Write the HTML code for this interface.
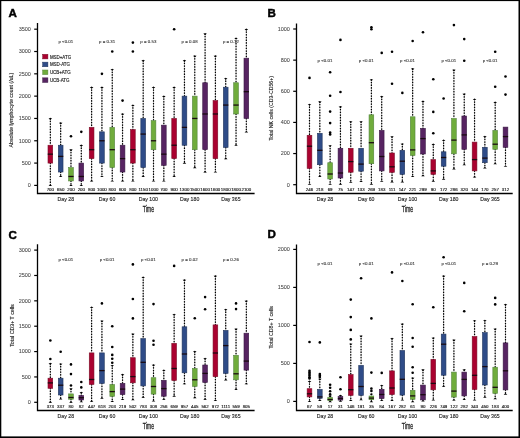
<!DOCTYPE html>
<html><head><meta charset="utf-8"><style>
html,body{margin:0;padding:0;background:#fff;}
body{width:520px;height:438px;overflow:hidden;}
svg{display:block;font-family:"Liberation Sans",sans-serif;will-change:transform;}
.ax{fill:none;stroke:#000;stroke-width:1.3;}
.tk{fill:none;stroke:#000;stroke-width:1.2;}
.tl{font-size:5.5px;text-anchor:end;fill:#444;stroke:#444;stroke-width:0.06;}
.yt{font-size:5.2px;text-anchor:middle;fill:#222;stroke:#222;stroke-width:0.12;}
.wk{fill:none;stroke:#000;stroke-width:1.3;stroke-dasharray:0.45 2.25;stroke-linecap:round;}
.wl{fill:none;stroke:#c8c8c8;stroke-width:0.7;}
.cp{fill:#000;stroke:none;}
.md{fill:none;stroke:#1a0a10;stroke-width:1.3;}
.ml{font-size:4.4px;text-anchor:middle;fill:#222;stroke:#222;stroke-width:0.16;}
.dl{font-size:5.2px;text-anchor:middle;fill:#222;stroke:#222;stroke-width:0.12;}
.pv{font-size:4.4px;text-anchor:middle;fill:#333;stroke:#333;stroke-width:0.1;}
.tm{font-size:8.6px;text-anchor:middle;fill:#222;stroke:#222;stroke-width:0.3;}
.pl{font-size:11.6px;font-weight:bold;fill:#000;stroke:#000;stroke-width:0.45;}
.lg{font-size:4.45px;fill:#222;stroke:#222;stroke-width:0.14;}
</style></head><body>
<svg width="520" height="438" viewBox="0 0 520 438">
<rect x="0" y="0" width="520" height="438" fill="#fff"/>
<path d="M37.5 23V193.5H254.6" class="ax"/>
<path d="M34.2 185.4H37.5" class="tk"/>
<text x="30.9" y="187.3" class="tl">0</text>
<path d="M34.2 163.09H37.5" class="tk"/>
<text x="30.9" y="164.99" class="tl">500</text>
<path d="M34.2 140.77H37.5" class="tk"/>
<text x="30.9" y="142.67" class="tl">1000</text>
<path d="M34.2 118.45H37.5" class="tk"/>
<text x="30.9" y="120.36" class="tl">1500</text>
<path d="M34.2 96.14H37.5" class="tk"/>
<text x="30.9" y="98.04" class="tl">2000</text>
<path d="M34.2 73.83H37.5" class="tk"/>
<text x="30.9" y="75.73" class="tl">2500</text>
<path d="M34.2 51.51H37.5" class="tk"/>
<text x="30.9" y="53.41" class="tl">3000</text>
<path d="M34.2 29.19H37.5" class="tk"/>
<text x="30.9" y="31.09" class="tl">3500</text>
<text transform="translate(13 110.1) rotate(-90)" class="yt" textLength="74.6" lengthAdjust="spacingAndGlyphs">Absolute lymphocyte count (/uL)</text>
<path d="M50.35 118.45V145.23" class="wl"/>
<path d="M50.35 118.45V145.23" class="wk"/>
<path d="M48.55 118.3H52.15L50.35 119.95Z" class="cp"/>
<path d="M50.35 163.09V185.4" class="wl"/>
<path d="M50.35 163.09V185.4" class="wk"/>
<path d="M48.55 186H52.15L50.35 184.4Z" class="cp"/>
<rect x="48" y="145.23" width="4.7" height="17.85" fill="#aa0230" stroke="#7a1028" stroke-width="0.6"/>
<path d="M47.75 154.16H52.95" class="md"/>
<text x="50.35" y="190.7" class="ml">700</text>
<path d="M60.67 122.92V145.23" class="wl"/>
<path d="M60.67 122.92V145.23" class="wk"/>
<path d="M58.87 122.77H62.47L60.67 124.42Z" class="cp"/>
<path d="M60.67 172.01V176.47" class="wl"/>
<path d="M60.67 172.01V176.47" class="wk"/>
<path d="M58.87 177.07H62.47L60.67 175.47Z" class="cp"/>
<rect x="58.32" y="145.23" width="4.7" height="26.78" fill="#2f4c88" stroke="#22365c" stroke-width="0.6"/>
<path d="M58.07 156.39H63.27" class="md"/>
<text x="60.67" y="190.7" class="ml">650</text>
<path d="M70.98 149.7V167.55" class="wl"/>
<path d="M70.98 149.7V167.55" class="wk"/>
<path d="M69.18 149.55H72.78L70.98 151.2Z" class="cp"/>
<path d="M70.98 180.94V185.4" class="wl"/>
<path d="M70.98 180.94V185.4" class="wk"/>
<path d="M69.18 186H72.78L70.98 184.4Z" class="cp"/>
<rect x="68.63" y="167.55" width="4.7" height="13.39" fill="#70ac3c" stroke="#55853f" stroke-width="0.6"/>
<path d="M68.38 176.47H73.58" class="md"/>
<circle cx="70.98" cy="136.31" r="1.3"/>
<text x="70.98" y="190.7" class="ml">200</text>
<path d="M81.3 145.23V163.09" class="wl"/>
<path d="M81.3 145.23V163.09" class="wk"/>
<path d="M79.5 145.08H83.1L81.3 146.73Z" class="cp"/>
<path d="M81.3 180.94V185.4" class="wl"/>
<path d="M81.3 180.94V185.4" class="wk"/>
<path d="M79.5 186H83.1L81.3 184.4Z" class="cp"/>
<rect x="78.95" y="163.09" width="4.7" height="17.85" fill="#572462" stroke="#3a1a44" stroke-width="0.6"/>
<path d="M78.7 176.47H83.9" class="md"/>
<circle cx="81.3" cy="131.84" r="1.3"/>
<text x="81.3" y="190.7" class="ml">200</text>
<path d="M91.61 87.21V127.38" class="wl"/>
<path d="M91.61 87.21V127.38" class="wk"/>
<path d="M89.81 87.06H93.41L91.61 88.71Z" class="cp"/>
<path d="M91.61 158.62V180.94" class="wl"/>
<path d="M91.61 158.62V180.94" class="wk"/>
<path d="M89.81 181.54H93.41L91.61 179.94Z" class="cp"/>
<rect x="89.26" y="127.38" width="4.7" height="31.24" fill="#aa0230" stroke="#7a1028" stroke-width="0.6"/>
<path d="M89.01 149.7H94.21" class="md"/>
<text x="91.61" y="190.7" class="ml">800</text>
<path d="M101.93 87.21V131.84" class="wl"/>
<path d="M101.93 87.21V131.84" class="wk"/>
<path d="M100.13 87.06H103.73L101.93 88.71Z" class="cp"/>
<path d="M101.93 163.09V176.47" class="wl"/>
<path d="M101.93 163.09V176.47" class="wk"/>
<path d="M100.13 177.07H103.73L101.93 175.47Z" class="cp"/>
<rect x="99.58" y="131.84" width="4.7" height="31.24" fill="#2f4c88" stroke="#22365c" stroke-width="0.6"/>
<path d="M99.33 140.77H104.53" class="md"/>
<circle cx="101.93" cy="73.83" r="1.3"/>
<text x="101.93" y="190.7" class="ml">1000</text>
<path d="M112.25 69.36V127.38" class="wl"/>
<path d="M112.25 69.36V127.38" class="wk"/>
<path d="M110.45 69.21H114.05L112.25 70.86Z" class="cp"/>
<path d="M112.25 167.55V180.94" class="wl"/>
<path d="M112.25 167.55V180.94" class="wk"/>
<path d="M110.45 181.54H114.05L112.25 179.94Z" class="cp"/>
<rect x="109.9" y="127.38" width="4.7" height="40.17" fill="#70ac3c" stroke="#55853f" stroke-width="0.6"/>
<path d="M109.65 149.7H114.85" class="md"/>
<circle cx="112.25" cy="51.51" r="1.3"/>
<text x="112.25" y="190.7" class="ml">800</text>
<path d="M122.56 113.99V145.23" class="wl"/>
<path d="M122.56 113.99V145.23" class="wk"/>
<path d="M120.76 113.84H124.36L122.56 115.49Z" class="cp"/>
<path d="M122.56 172.01V180.94" class="wl"/>
<path d="M122.56 172.01V180.94" class="wk"/>
<path d="M120.76 181.54H124.36L122.56 179.94Z" class="cp"/>
<rect x="120.21" y="145.23" width="4.7" height="26.78" fill="#572462" stroke="#3a1a44" stroke-width="0.6"/>
<path d="M119.96 158.62H125.16" class="md"/>
<circle cx="122.56" cy="100.6" r="1.3"/>
<text x="122.56" y="190.7" class="ml">600</text>
<path d="M132.88 105.07V129.61" class="wl"/>
<path d="M132.88 105.07V129.61" class="wk"/>
<path d="M131.08 104.92H134.68L132.88 106.57Z" class="cp"/>
<path d="M132.88 163.09V180.94" class="wl"/>
<path d="M132.88 163.09V180.94" class="wk"/>
<path d="M131.08 181.54H134.68L132.88 179.94Z" class="cp"/>
<rect x="130.53" y="129.61" width="4.7" height="33.47" fill="#aa0230" stroke="#7a1028" stroke-width="0.6"/>
<path d="M130.28 149.7H135.48" class="md"/>
<circle cx="132.88" cy="51.51" r="1.3"/>
<circle cx="132.88" cy="42.58" r="1.3"/>
<text x="132.88" y="190.7" class="ml">800</text>
<path d="M143.19 60.44V118.45" class="wl"/>
<path d="M143.19 60.44V118.45" class="wk"/>
<path d="M141.39 60.29H144.99L143.19 61.94Z" class="cp"/>
<path d="M143.19 167.55V176.47" class="wl"/>
<path d="M143.19 167.55V176.47" class="wk"/>
<path d="M141.39 177.07H144.99L143.19 175.47Z" class="cp"/>
<rect x="140.84" y="118.45" width="4.7" height="49.09" fill="#2f4c88" stroke="#22365c" stroke-width="0.6"/>
<path d="M140.59 134.08H145.79" class="md"/>
<text x="143.19" y="190.7" class="ml">1150</text>
<path d="M153.51 87.21V120.69" class="wl"/>
<path d="M153.51 87.21V120.69" class="wk"/>
<path d="M151.71 87.06H155.31L153.51 88.71Z" class="cp"/>
<path d="M153.51 149.7V180.94" class="wl"/>
<path d="M153.51 149.7V180.94" class="wk"/>
<path d="M151.71 181.54H155.31L153.51 179.94Z" class="cp"/>
<rect x="151.16" y="120.69" width="4.7" height="29.01" fill="#70ac3c" stroke="#55853f" stroke-width="0.6"/>
<path d="M150.91 140.77H156.11" class="md"/>
<text x="153.51" y="190.7" class="ml">1000</text>
<path d="M163.83 96.14V125.15" class="wl"/>
<path d="M163.83 96.14V125.15" class="wk"/>
<path d="M162.03 95.99H165.63L163.83 97.64Z" class="cp"/>
<path d="M163.83 165.32V180.94" class="wl"/>
<path d="M163.83 165.32V180.94" class="wk"/>
<path d="M162.03 181.54H165.63L163.83 179.94Z" class="cp"/>
<rect x="161.48" y="125.15" width="4.7" height="40.17" fill="#572462" stroke="#3a1a44" stroke-width="0.6"/>
<path d="M161.23 154.16H166.43" class="md"/>
<text x="163.83" y="190.7" class="ml">700</text>
<path d="M174.14 87.21V118.45" class="wl"/>
<path d="M174.14 87.21V118.45" class="wk"/>
<path d="M172.34 87.06H175.94L174.14 88.71Z" class="cp"/>
<path d="M174.14 158.62V176.47" class="wl"/>
<path d="M174.14 158.62V176.47" class="wk"/>
<path d="M172.34 177.07H175.94L174.14 175.47Z" class="cp"/>
<rect x="171.79" y="118.45" width="4.7" height="40.17" fill="#aa0230" stroke="#7a1028" stroke-width="0.6"/>
<path d="M171.54 145.23H176.74" class="md"/>
<circle cx="174.14" cy="29.19" r="1.3"/>
<text x="174.14" y="190.7" class="ml">900</text>
<path d="M184.46 60.44V96.14" class="wl"/>
<path d="M184.46 60.44V96.14" class="wk"/>
<path d="M182.66 60.29H186.26L184.46 61.94Z" class="cp"/>
<path d="M184.46 145.23V163.09" class="wl"/>
<path d="M184.46 145.23V163.09" class="wk"/>
<path d="M182.66 163.69H186.26L184.46 162.09Z" class="cp"/>
<rect x="182.11" y="96.14" width="4.7" height="49.09" fill="#2f4c88" stroke="#22365c" stroke-width="0.6"/>
<path d="M181.86 127.38H187.06" class="md"/>
<text x="184.46" y="190.7" class="ml">1300</text>
<path d="M194.77 55.97V96.14" class="wl"/>
<path d="M194.77 55.97V96.14" class="wk"/>
<path d="M192.97 55.82H196.57L194.77 57.47Z" class="cp"/>
<path d="M194.77 149.7V167.55" class="wl"/>
<path d="M194.77 149.7V167.55" class="wk"/>
<path d="M192.97 168.15H196.57L194.77 166.55Z" class="cp"/>
<rect x="192.42" y="96.14" width="4.7" height="53.56" fill="#70ac3c" stroke="#55853f" stroke-width="0.6"/>
<path d="M192.17 118.45H197.37" class="md"/>
<text x="194.77" y="190.7" class="ml">1500</text>
<path d="M205.09 33.66V82.75" class="wl"/>
<path d="M205.09 33.66V82.75" class="wk"/>
<path d="M203.29 33.51H206.89L205.09 35.16Z" class="cp"/>
<path d="M205.09 149.7V172.01" class="wl"/>
<path d="M205.09 149.7V172.01" class="wk"/>
<path d="M203.29 172.61H206.89L205.09 171.01Z" class="cp"/>
<rect x="202.74" y="82.75" width="4.7" height="66.94" fill="#572462" stroke="#3a1a44" stroke-width="0.6"/>
<path d="M202.49 113.99H207.69" class="md"/>
<text x="205.09" y="190.7" class="ml">1600</text>
<path d="M215.41 55.97V100.6" class="wl"/>
<path d="M215.41 55.97V100.6" class="wk"/>
<path d="M213.61 55.82H217.21L215.41 57.47Z" class="cp"/>
<path d="M215.41 158.62V172.01" class="wl"/>
<path d="M215.41 158.62V172.01" class="wk"/>
<path d="M213.61 172.61H217.21L215.41 171.01Z" class="cp"/>
<rect x="213.06" y="100.6" width="4.7" height="58.02" fill="#aa0230" stroke="#7a1028" stroke-width="0.6"/>
<path d="M212.81 113.99H218.01" class="md"/>
<text x="215.41" y="190.7" class="ml">1600</text>
<path d="M225.72 78.29V87.21" class="wl"/>
<path d="M225.72 78.29V87.21" class="wk"/>
<path d="M223.92 78.14H227.52L225.72 79.79Z" class="cp"/>
<path d="M225.72 147.46V158.62" class="wl"/>
<path d="M225.72 147.46V158.62" class="wk"/>
<path d="M223.92 159.22H227.52L225.72 157.62Z" class="cp"/>
<rect x="223.37" y="87.21" width="4.7" height="60.25" fill="#2f4c88" stroke="#22365c" stroke-width="0.6"/>
<path d="M223.12 105.07H228.32" class="md"/>
<text x="225.72" y="190.7" class="ml">1800</text>
<path d="M236.04 38.12V82.75" class="wl"/>
<path d="M236.04 38.12V82.75" class="wk"/>
<path d="M234.24 37.97H237.84L236.04 39.62Z" class="cp"/>
<path d="M236.04 113.99V145.23" class="wl"/>
<path d="M236.04 113.99V145.23" class="wk"/>
<path d="M234.24 145.83H237.84L236.04 144.23Z" class="cp"/>
<rect x="233.69" y="82.75" width="4.7" height="31.24" fill="#70ac3c" stroke="#55853f" stroke-width="0.6"/>
<path d="M233.44 105.07H238.64" class="md"/>
<text x="236.04" y="190.7" class="ml">1800</text>
<path d="M246.35 29.19V58.2" class="wl"/>
<path d="M246.35 29.19V58.2" class="wk"/>
<path d="M244.55 29.04H248.15L246.35 30.69Z" class="cp"/>
<path d="M246.35 118.45V131.84" class="wl"/>
<path d="M246.35 118.45V131.84" class="wk"/>
<path d="M244.55 132.44H248.15L246.35 130.84Z" class="cp"/>
<rect x="244" y="58.2" width="4.7" height="60.25" fill="#572462" stroke="#3a1a44" stroke-width="0.6"/>
<path d="M243.75 91.68H248.95" class="md"/>
<text x="246.35" y="190.7" class="ml">2100</text>
<text x="65.82" y="201" class="dl">Day 28</text>
<text x="65.82" y="43.4" class="pv">p <0.01</text>
<text x="107.09" y="201" class="dl">Day 60</text>
<text x="107.09" y="43.4" class="pv">p = 0.31</text>
<text x="148.35" y="201" class="dl">Day 100</text>
<text x="148.35" y="43.4" class="pv">p = 0.53</text>
<text x="189.62" y="201" class="dl">Day 180</text>
<text x="189.62" y="43.4" class="pv">p = 0.08</text>
<text x="230.88" y="201" class="dl">Day 365</text>
<text x="230.88" y="43.4" class="pv">p = 0.12</text>
<text x="148.35" y="211.6" class="tm" textLength="11.4" lengthAdjust="spacingAndGlyphs">Time</text>
<text x="8.4" y="16.7" class="pl">A</text>
<path d="M296.5 23.4V193.5H512.7" class="ax"/>
<path d="M293.2 184.7H296.5" class="tk"/>
<text x="289.9" y="186.6" class="tl">0</text>
<path d="M293.2 153.56H296.5" class="tk"/>
<text x="289.9" y="155.46" class="tl">200</text>
<path d="M293.2 122.42H296.5" class="tk"/>
<text x="289.9" y="124.32" class="tl">400</text>
<path d="M293.2 91.28H296.5" class="tk"/>
<text x="289.9" y="93.18" class="tl">600</text>
<path d="M293.2 60.14H296.5" class="tk"/>
<text x="289.9" y="62.04" class="tl">800</text>
<path d="M293.2 29H296.5" class="tk"/>
<text x="289.9" y="30.9" class="tl">1000</text>
<text transform="translate(272.6 108.3) rotate(-90)" class="yt" textLength="64.6" lengthAdjust="spacingAndGlyphs">Total NK cells (CD3-CD56+)</text>
<path d="M309.5 104.3V135.3" class="wl"/>
<path d="M309.5 104.3V135.3" class="wk"/>
<path d="M307.7 104.15H311.3L309.5 105.8Z" class="cp"/>
<path d="M309.5 168.4V184.2" class="wl"/>
<path d="M309.5 168.4V184.2" class="wk"/>
<path d="M307.7 184.8H311.3L309.5 183.2Z" class="cp"/>
<rect x="307.15" y="135.3" width="4.7" height="33.1" fill="#aa0230" stroke="#7a1028" stroke-width="0.6"/>
<path d="M306.9 146.2H312.1" class="md"/>
<circle cx="309.5" cy="77.9" r="1.3"/>
<text x="309.5" y="190.7" class="ml">246</text>
<path d="M319.82 101.7V133.3" class="wl"/>
<path d="M319.82 101.7V133.3" class="wk"/>
<path d="M318.02 101.55H321.62L319.82 103.2Z" class="cp"/>
<path d="M319.82 164.7V176.4" class="wl"/>
<path d="M319.82 164.7V176.4" class="wk"/>
<path d="M318.02 177H321.62L319.82 175.4Z" class="cp"/>
<rect x="317.47" y="133.3" width="4.7" height="31.4" fill="#2f4c88" stroke="#22365c" stroke-width="0.6"/>
<path d="M317.22 150.3H322.42" class="md"/>
<text x="319.82" y="190.7" class="ml">218</text>
<path d="M330.13 145.6V162.7" class="wl"/>
<path d="M330.13 145.6V162.7" class="wk"/>
<path d="M328.33 145.45H331.93L330.13 147.1Z" class="cp"/>
<path d="M330.13 179V184.2" class="wl"/>
<path d="M330.13 179V184.2" class="wk"/>
<path d="M328.33 184.8H331.93L330.13 183.2Z" class="cp"/>
<rect x="327.78" y="162.7" width="4.7" height="16.3" fill="#70ac3c" stroke="#55853f" stroke-width="0.6"/>
<path d="M327.53 174H332.73" class="md"/>
<circle cx="330.13" cy="72.3" r="1.3"/>
<circle cx="330.13" cy="95.7" r="1.3"/>
<circle cx="330.13" cy="111.6" r="1.3"/>
<circle cx="330.13" cy="123.1" r="1.3"/>
<circle cx="330.13" cy="132.6" r="1.3"/>
<circle cx="330.13" cy="134.4" r="1.3"/>
<text x="330.13" y="190.7" class="ml">69</text>
<path d="M340.45 106.7V148.3" class="wl"/>
<path d="M340.45 106.7V148.3" class="wk"/>
<path d="M338.65 106.55H342.25L340.45 108.2Z" class="cp"/>
<path d="M340.45 178V184.2" class="wl"/>
<path d="M340.45 178V184.2" class="wk"/>
<path d="M338.65 184.8H342.25L340.45 183.2Z" class="cp"/>
<rect x="338.1" y="148.3" width="4.7" height="29.7" fill="#572462" stroke="#3a1a44" stroke-width="0.6"/>
<path d="M337.85 173H343.05" class="md"/>
<circle cx="340.45" cy="39.9" r="1.3"/>
<circle cx="340.45" cy="92" r="1.3"/>
<text x="340.45" y="190.7" class="ml">75</text>
<path d="M350.76 121.6V148.3" class="wl"/>
<path d="M350.76 121.6V148.3" class="wk"/>
<path d="M348.96 121.45H352.56L350.76 123.1Z" class="cp"/>
<path d="M350.76 172.2V182.2" class="wl"/>
<path d="M350.76 172.2V182.2" class="wk"/>
<path d="M348.96 182.8H352.56L350.76 181.2Z" class="cp"/>
<rect x="348.41" y="148.3" width="4.7" height="23.9" fill="#aa0230" stroke="#7a1028" stroke-width="0.6"/>
<path d="M348.16 161.6H353.36" class="md"/>
<text x="350.76" y="190.7" class="ml">147</text>
<path d="M361.08 121.6V148.3" class="wl"/>
<path d="M361.08 121.6V148.3" class="wk"/>
<path d="M359.28 121.45H362.88L361.08 123.1Z" class="cp"/>
<path d="M361.08 171.2V181.4" class="wl"/>
<path d="M361.08 171.2V181.4" class="wk"/>
<path d="M359.28 182H362.88L361.08 180.4Z" class="cp"/>
<rect x="358.73" y="148.3" width="4.7" height="22.9" fill="#2f4c88" stroke="#22365c" stroke-width="0.6"/>
<path d="M358.48 164.1H363.68" class="md"/>
<text x="361.08" y="190.7" class="ml">133</text>
<path d="M371.4 79.6V114.8" class="wl"/>
<path d="M371.4 79.6V114.8" class="wk"/>
<path d="M369.6 79.45H373.2L371.4 81.1Z" class="cp"/>
<path d="M371.4 163.7V184.2" class="wl"/>
<path d="M371.4 163.7V184.2" class="wk"/>
<path d="M369.6 184.8H373.2L371.4 183.2Z" class="cp"/>
<rect x="369.05" y="114.8" width="4.7" height="48.9" fill="#70ac3c" stroke="#55853f" stroke-width="0.6"/>
<path d="M368.8 142.7H374" class="md"/>
<circle cx="371.4" cy="27.2" r="1.3"/>
<circle cx="371.4" cy="29.2" r="1.3"/>
<text x="371.4" y="190.7" class="ml">269</text>
<path d="M381.71 96.4V130.4" class="wl"/>
<path d="M381.71 96.4V130.4" class="wk"/>
<path d="M379.91 96.25H383.51L381.71 97.9Z" class="cp"/>
<path d="M381.71 170.9V181.2" class="wl"/>
<path d="M381.71 170.9V181.2" class="wk"/>
<path d="M379.91 181.8H383.51L381.71 180.2Z" class="cp"/>
<rect x="379.36" y="130.4" width="4.7" height="40.5" fill="#572462" stroke="#3a1a44" stroke-width="0.6"/>
<path d="M379.11 156.5H384.31" class="md"/>
<circle cx="381.71" cy="52.9" r="1.3"/>
<text x="381.71" y="190.7" class="ml">183</text>
<path d="M392.03 136.6V153" class="wl"/>
<path d="M392.03 136.6V153" class="wk"/>
<path d="M390.23 136.45H393.83L392.03 138.1Z" class="cp"/>
<path d="M392.03 172.3V181.8" class="wl"/>
<path d="M392.03 172.3V181.8" class="wk"/>
<path d="M390.23 182.4H393.83L392.03 180.8Z" class="cp"/>
<rect x="389.68" y="153" width="4.7" height="19.3" fill="#aa0230" stroke="#7a1028" stroke-width="0.6"/>
<path d="M389.43 166.8H394.63" class="md"/>
<circle cx="392.03" cy="51.8" r="1.3"/>
<circle cx="392.03" cy="83.7" r="1.3"/>
<text x="392.03" y="190.7" class="ml">111</text>
<path d="M402.34 143.8V150.3" class="wl"/>
<path d="M402.34 143.8V150.3" class="wk"/>
<path d="M400.54 143.65H404.14L402.34 145.3Z" class="cp"/>
<path d="M402.34 174.4V181.8" class="wl"/>
<path d="M402.34 174.4V181.8" class="wk"/>
<path d="M400.54 182.4H404.14L402.34 180.8Z" class="cp"/>
<rect x="399.99" y="150.3" width="4.7" height="24.1" fill="#2f4c88" stroke="#22365c" stroke-width="0.6"/>
<path d="M399.74 161.2H404.94" class="md"/>
<circle cx="402.34" cy="92.9" r="1.3"/>
<text x="402.34" y="190.7" class="ml">147</text>
<path d="M412.66 68.7V116.8" class="wl"/>
<path d="M412.66 68.7V116.8" class="wk"/>
<path d="M410.86 68.55H414.46L412.66 70.2Z" class="cp"/>
<path d="M412.66 155.5V176.4" class="wl"/>
<path d="M412.66 155.5V176.4" class="wk"/>
<path d="M410.86 177H414.46L412.66 175.4Z" class="cp"/>
<rect x="410.31" y="116.8" width="4.7" height="38.7" fill="#70ac3c" stroke="#55853f" stroke-width="0.6"/>
<path d="M410.06 149.9H415.26" class="md"/>
<circle cx="412.66" cy="41" r="1.3"/>
<text x="412.66" y="190.7" class="ml">221</text>
<path d="M422.98 101.2V128.4" class="wl"/>
<path d="M422.98 101.2V128.4" class="wk"/>
<path d="M421.18 101.05H424.78L422.98 102.7Z" class="cp"/>
<path d="M422.98 154V175.6" class="wl"/>
<path d="M422.98 154V175.6" class="wk"/>
<path d="M421.18 176.2H424.78L422.98 174.6Z" class="cp"/>
<rect x="420.63" y="128.4" width="4.7" height="25.6" fill="#572462" stroke="#3a1a44" stroke-width="0.6"/>
<path d="M420.38 138.6H425.58" class="md"/>
<circle cx="422.98" cy="32.3" r="1.3"/>
<text x="422.98" y="190.7" class="ml">299</text>
<path d="M433.29 144.2V159.6" class="wl"/>
<path d="M433.29 144.2V159.6" class="wk"/>
<path d="M431.49 144.05H435.09L433.29 145.7Z" class="cp"/>
<path d="M433.29 174.4V181.2" class="wl"/>
<path d="M433.29 174.4V181.2" class="wk"/>
<path d="M431.49 181.8H435.09L433.29 180.2Z" class="cp"/>
<rect x="430.94" y="159.6" width="4.7" height="14.8" fill="#aa0230" stroke="#7a1028" stroke-width="0.6"/>
<path d="M430.69 170.9H435.89" class="md"/>
<circle cx="433.29" cy="79.2" r="1.3"/>
<circle cx="433.29" cy="111.9" r="1.3"/>
<circle cx="433.29" cy="133.3" r="1.3"/>
<text x="433.29" y="190.7" class="ml">90</text>
<path d="M443.61 140.1V151.8" class="wl"/>
<path d="M443.61 140.1V151.8" class="wk"/>
<path d="M441.81 139.95H445.41L443.61 141.6Z" class="cp"/>
<path d="M443.61 166.2V179.1" class="wl"/>
<path d="M443.61 166.2V179.1" class="wk"/>
<path d="M441.81 179.7H445.41L443.61 178.1Z" class="cp"/>
<rect x="441.26" y="151.8" width="4.7" height="14.4" fill="#2f4c88" stroke="#22365c" stroke-width="0.6"/>
<path d="M441.01 157.5H446.21" class="md"/>
<circle cx="443.61" cy="98.5" r="1.3"/>
<text x="443.61" y="190.7" class="ml">172</text>
<path d="M453.92 69.9V118.5" class="wl"/>
<path d="M453.92 69.9V118.5" class="wk"/>
<path d="M452.12 69.75H455.72L453.92 71.4Z" class="cp"/>
<path d="M453.92 153.8V168.8" class="wl"/>
<path d="M453.92 153.8V168.8" class="wk"/>
<path d="M452.12 169.4H455.72L453.92 167.8Z" class="cp"/>
<rect x="451.57" y="118.5" width="4.7" height="35.3" fill="#70ac3c" stroke="#55853f" stroke-width="0.6"/>
<path d="M451.32 140.1H456.52" class="md"/>
<circle cx="453.92" cy="25.1" r="1.3"/>
<text x="453.92" y="190.7" class="ml">286</text>
<path d="M464.24 94V116" class="wl"/>
<path d="M464.24 94V116" class="wk"/>
<path d="M462.44 93.85H466.04L464.24 95.5Z" class="cp"/>
<path d="M464.24 149.3V164.7" class="wl"/>
<path d="M464.24 149.3V164.7" class="wk"/>
<path d="M462.44 165.3H466.04L464.24 163.7Z" class="cp"/>
<rect x="461.89" y="116" width="4.7" height="33.3" fill="#572462" stroke="#3a1a44" stroke-width="0.6"/>
<path d="M461.64 134.9H466.84" class="md"/>
<circle cx="464.24" cy="39.1" r="1.3"/>
<circle cx="464.24" cy="60.7" r="1.3"/>
<text x="464.24" y="190.7" class="ml">320</text>
<path d="M474.56 99.1V142.1" class="wl"/>
<path d="M474.56 99.1V142.1" class="wk"/>
<path d="M472.76 98.95H476.36L474.56 100.6Z" class="cp"/>
<path d="M474.56 170.9V177" class="wl"/>
<path d="M474.56 170.9V177" class="wk"/>
<path d="M472.76 177.6H476.36L474.56 176Z" class="cp"/>
<rect x="472.21" y="142.1" width="4.7" height="28.8" fill="#aa0230" stroke="#7a1028" stroke-width="0.6"/>
<path d="M471.96 159.6H477.16" class="md"/>
<text x="474.56" y="190.7" class="ml">144</text>
<path d="M484.87 136.4V147.3" class="wl"/>
<path d="M484.87 136.4V147.3" class="wk"/>
<path d="M483.07 136.25H486.67L484.87 137.9Z" class="cp"/>
<path d="M484.87 162.7V167.8" class="wl"/>
<path d="M484.87 162.7V167.8" class="wk"/>
<path d="M483.07 168.4H486.67L484.87 166.8Z" class="cp"/>
<rect x="482.52" y="147.3" width="4.7" height="15.4" fill="#2f4c88" stroke="#22365c" stroke-width="0.6"/>
<path d="M482.27 158.1H487.47" class="md"/>
<text x="484.87" y="190.7" class="ml">170</text>
<path d="M495.19 102.2V130.4" class="wl"/>
<path d="M495.19 102.2V130.4" class="wk"/>
<path d="M493.39 102.05H496.99L495.19 103.7Z" class="cp"/>
<path d="M495.19 149.3V163.7" class="wl"/>
<path d="M495.19 149.3V163.7" class="wk"/>
<path d="M493.39 164.3H496.99L495.19 162.7Z" class="cp"/>
<rect x="492.84" y="130.4" width="4.7" height="18.9" fill="#70ac3c" stroke="#55853f" stroke-width="0.6"/>
<path d="M492.59 144.2H497.79" class="md"/>
<circle cx="495.19" cy="51.8" r="1.3"/>
<circle cx="495.19" cy="86.8" r="1.3"/>
<text x="495.19" y="190.7" class="ml">257</text>
<path d="M505.5 147.3V166.2" class="wl"/>
<path d="M505.5 147.3V166.2" class="wk"/>
<path d="M503.7 166.8H507.3L505.5 165.2Z" class="cp"/>
<rect x="503.15" y="127.1" width="4.7" height="20.2" fill="#572462" stroke="#3a1a44" stroke-width="0.6"/>
<path d="M502.9 136.6H508.1" class="md"/>
<circle cx="505.5" cy="76.5" r="1.3"/>
<circle cx="505.5" cy="94.6" r="1.3"/>
<text x="505.5" y="190.7" class="ml">312</text>
<text x="324.97" y="200.8" class="dl">Day 28</text>
<text x="324.97" y="61.7" class="pv">p <0.01</text>
<text x="366.24" y="200.8" class="dl">Day 60</text>
<text x="366.24" y="61.7" class="pv">p <0.01</text>
<text x="407.5" y="200.8" class="dl">Day 100</text>
<text x="407.5" y="61.7" class="pv">p <0.01</text>
<text x="448.77" y="200.8" class="dl">Day 180</text>
<text x="448.77" y="61.7" class="pv">p <0.01</text>
<text x="490.03" y="200.8" class="dl">Day 365</text>
<text x="490.03" y="61.7" class="pv">p <0.01</text>
<text x="407.5" y="211.6" class="tm" textLength="11.4" lengthAdjust="spacingAndGlyphs">Time</text>
<text x="267.6" y="16.9" class="pl">B</text>
<path d="M37.5 244.2V410.5H254.6" class="ax"/>
<path d="M34.2 402.3H37.5" class="tk"/>
<text x="30.9" y="404.2" class="tl">0</text>
<path d="M34.2 376.94H37.5" class="tk"/>
<text x="30.9" y="378.83" class="tl">500</text>
<path d="M34.2 351.57H37.5" class="tk"/>
<text x="30.9" y="353.47" class="tl">1000</text>
<path d="M34.2 326.21H37.5" class="tk"/>
<text x="30.9" y="328.11" class="tl">1500</text>
<path d="M34.2 300.84H37.5" class="tk"/>
<text x="30.9" y="302.74" class="tl">2000</text>
<path d="M34.2 275.48H37.5" class="tk"/>
<text x="30.9" y="277.38" class="tl">2500</text>
<path d="M34.2 250.11H37.5" class="tk"/>
<text x="30.9" y="252.01" class="tl">3000</text>
<text transform="translate(13.6 325.6) rotate(-90)" class="yt" textLength="42.4" lengthAdjust="spacingAndGlyphs">Total CD3+ T cells</text>
<path d="M50.35 363.5V378.2" class="wl"/>
<path d="M50.35 363.5V378.2" class="wk"/>
<path d="M48.55 363.35H52.15L50.35 365Z" class="cp"/>
<path d="M50.35 388.3V402.1" class="wl"/>
<path d="M50.35 388.3V402.1" class="wk"/>
<path d="M48.55 402.7H52.15L50.35 401.1Z" class="cp"/>
<rect x="48" y="378.2" width="4.7" height="10.1" fill="#aa0230" stroke="#7a1028" stroke-width="0.6"/>
<path d="M47.75 382.9H52.95" class="md"/>
<circle cx="50.35" cy="340.5" r="1.3"/>
<circle cx="50.35" cy="359" r="1.3"/>
<text x="50.35" y="407.9" class="ml">373</text>
<path d="M60.67 363.8V378.2" class="wl"/>
<path d="M60.67 363.8V378.2" class="wk"/>
<path d="M58.87 363.65H62.47L60.67 365.3Z" class="cp"/>
<path d="M60.67 395V399" class="wl"/>
<path d="M60.67 395V399" class="wk"/>
<path d="M58.87 399.6H62.47L60.67 398Z" class="cp"/>
<rect x="58.32" y="378.2" width="4.7" height="16.8" fill="#2f4c88" stroke="#22365c" stroke-width="0.6"/>
<path d="M58.07 385.2H63.27" class="md"/>
<circle cx="60.67" cy="351.8" r="1.3"/>
<text x="60.67" y="407.9" class="ml">337</text>
<path d="M70.98 388.7V393.9" class="wl"/>
<path d="M70.98 388.7V393.9" class="wk"/>
<path d="M69.18 388.55H72.78L70.98 390.2Z" class="cp"/>
<path d="M70.98 399.2V402.1" class="wl"/>
<path d="M70.98 399.2V402.1" class="wk"/>
<path d="M69.18 402.7H72.78L70.98 401.1Z" class="cp"/>
<rect x="68.63" y="393.9" width="4.7" height="5.3" fill="#70ac3c" stroke="#55853f" stroke-width="0.6"/>
<path d="M68.38 397.5H73.58" class="md"/>
<circle cx="70.98" cy="364.4" r="1.3"/>
<circle cx="70.98" cy="374.1" r="1.3"/>
<circle cx="70.98" cy="385.5" r="1.3"/>
<text x="70.98" y="407.9" class="ml">80</text>
<path d="M81.3 392.4V395.5" class="wl"/>
<path d="M81.3 392.4V395.5" class="wk"/>
<path d="M79.5 392.25H83.1L81.3 393.9Z" class="cp"/>
<path d="M81.3 400V401.7" class="wl"/>
<path d="M81.3 400V401.7" class="wk"/>
<path d="M79.5 402.3H83.1L81.3 400.7Z" class="cp"/>
<rect x="78.95" y="395.5" width="4.7" height="4.5" fill="#572462" stroke="#3a1a44" stroke-width="0.6"/>
<path d="M78.7 397.7H83.9" class="md"/>
<circle cx="81.3" cy="382" r="1.3"/>
<circle cx="81.3" cy="387.4" r="1.3"/>
<text x="81.3" y="407.9" class="ml">82</text>
<path d="M91.61 307.1V352.9" class="wl"/>
<path d="M91.61 307.1V352.9" class="wk"/>
<path d="M89.81 306.95H93.41L91.61 308.6Z" class="cp"/>
<path d="M91.61 384.5V401.2" class="wl"/>
<path d="M91.61 384.5V401.2" class="wk"/>
<path d="M89.81 401.8H93.41L91.61 400.2Z" class="cp"/>
<rect x="89.26" y="352.9" width="4.7" height="31.6" fill="#aa0230" stroke="#7a1028" stroke-width="0.6"/>
<path d="M89.01 379.5H94.21" class="md"/>
<text x="91.61" y="407.9" class="ml">447</text>
<path d="M101.93 320.8V352.9" class="wl"/>
<path d="M101.93 320.8V352.9" class="wk"/>
<path d="M100.13 320.65H103.73L101.93 322.3Z" class="cp"/>
<path d="M101.93 383.4V398.2" class="wl"/>
<path d="M101.93 383.4V398.2" class="wk"/>
<path d="M100.13 398.8H103.73L101.93 397.2Z" class="cp"/>
<rect x="99.58" y="352.9" width="4.7" height="30.5" fill="#2f4c88" stroke="#22365c" stroke-width="0.6"/>
<path d="M99.33 370.6H104.53" class="md"/>
<circle cx="101.93" cy="303.4" r="1.3"/>
<text x="101.93" y="407.9" class="ml">618</text>
<path d="M112.25 365.3V384.5" class="wl"/>
<path d="M112.25 365.3V384.5" class="wk"/>
<path d="M110.45 365.15H114.05L112.25 366.8Z" class="cp"/>
<path d="M112.25 396.4V401.4" class="wl"/>
<path d="M112.25 396.4V401.4" class="wk"/>
<path d="M110.45 402H114.05L112.25 400.4Z" class="cp"/>
<rect x="109.9" y="384.5" width="4.7" height="11.9" fill="#70ac3c" stroke="#55853f" stroke-width="0.6"/>
<path d="M109.65 391.6H114.85" class="md"/>
<circle cx="112.25" cy="326.3" r="1.3"/>
<circle cx="112.25" cy="347" r="1.3"/>
<circle cx="112.25" cy="354.9" r="1.3"/>
<circle cx="112.25" cy="358.7" r="1.3"/>
<circle cx="112.25" cy="362.8" r="1.3"/>
<text x="112.25" y="407.9" class="ml">203</text>
<path d="M122.56 374.5V383.4" class="wl"/>
<path d="M122.56 374.5V383.4" class="wk"/>
<path d="M120.76 374.35H124.36L122.56 376Z" class="cp"/>
<path d="M122.56 394.6V399.5" class="wl"/>
<path d="M122.56 394.6V399.5" class="wk"/>
<path d="M120.76 400.1H124.36L122.56 398.5Z" class="cp"/>
<rect x="120.21" y="383.4" width="4.7" height="11.2" fill="#572462" stroke="#3a1a44" stroke-width="0.6"/>
<path d="M119.96 389.1H125.16" class="md"/>
<text x="122.56" y="407.9" class="ml">219</text>
<path d="M132.88 333.9V357.7" class="wl"/>
<path d="M132.88 333.9V357.7" class="wk"/>
<path d="M131.08 333.75H134.68L132.88 335.4Z" class="cp"/>
<path d="M132.88 382.8V399.7" class="wl"/>
<path d="M132.88 382.8V399.7" class="wk"/>
<path d="M131.08 400.3H134.68L132.88 398.7Z" class="cp"/>
<rect x="130.53" y="357.7" width="4.7" height="25.1" fill="#aa0230" stroke="#7a1028" stroke-width="0.6"/>
<path d="M130.28 376.6H135.48" class="md"/>
<circle cx="132.88" cy="264.4" r="1.3"/>
<circle cx="132.88" cy="299" r="1.3"/>
<circle cx="132.88" cy="318.4" r="1.3"/>
<text x="132.88" y="407.9" class="ml">502</text>
<path d="M143.19 277.1V338.6" class="wl"/>
<path d="M143.19 277.1V338.6" class="wk"/>
<path d="M141.39 276.95H144.99L143.19 278.6Z" class="cp"/>
<path d="M143.19 385.9V397.2" class="wl"/>
<path d="M143.19 385.9V397.2" class="wk"/>
<path d="M141.39 397.8H144.99L143.19 396.2Z" class="cp"/>
<rect x="140.84" y="338.6" width="4.7" height="47.3" fill="#2f4c88" stroke="#22365c" stroke-width="0.6"/>
<path d="M140.59 362.3H145.79" class="md"/>
<text x="143.19" y="407.9" class="ml">783</text>
<path d="M153.51 364.9V377.7" class="wl"/>
<path d="M153.51 364.9V377.7" class="wk"/>
<path d="M151.71 364.75H155.31L153.51 366.4Z" class="cp"/>
<path d="M153.51 394.1V400.9" class="wl"/>
<path d="M153.51 394.1V400.9" class="wk"/>
<path d="M151.71 401.5H155.31L153.51 399.9Z" class="cp"/>
<rect x="151.16" y="377.7" width="4.7" height="16.4" fill="#70ac3c" stroke="#55853f" stroke-width="0.6"/>
<path d="M150.91 386.5H156.11" class="md"/>
<circle cx="153.51" cy="304.1" r="1.3"/>
<circle cx="153.51" cy="340.7" r="1.3"/>
<circle cx="153.51" cy="344.8" r="1.3"/>
<text x="153.51" y="407.9" class="ml">308</text>
<path d="M163.83 370.1V380.3" class="wl"/>
<path d="M163.83 370.1V380.3" class="wk"/>
<path d="M162.03 369.95H165.63L163.83 371.6Z" class="cp"/>
<path d="M163.83 396.2V399.2" class="wl"/>
<path d="M163.83 396.2V399.2" class="wk"/>
<path d="M162.03 399.8H165.63L163.83 398.2Z" class="cp"/>
<rect x="161.48" y="380.3" width="4.7" height="15.9" fill="#572462" stroke="#3a1a44" stroke-width="0.6"/>
<path d="M161.23 388.6H166.43" class="md"/>
<text x="163.83" y="407.9" class="ml">256</text>
<path d="M174.14 314.3V343.3" class="wl"/>
<path d="M174.14 314.3V343.3" class="wk"/>
<path d="M172.34 314.15H175.94L174.14 315.8Z" class="cp"/>
<path d="M174.14 380.5V396.1" class="wl"/>
<path d="M174.14 380.5V396.1" class="wk"/>
<path d="M172.34 396.7H175.94L174.14 395.1Z" class="cp"/>
<rect x="171.79" y="343.3" width="4.7" height="37.2" fill="#aa0230" stroke="#7a1028" stroke-width="0.6"/>
<path d="M171.54 368.5H176.74" class="md"/>
<circle cx="174.14" cy="265.9" r="1.3"/>
<text x="174.14" y="407.9" class="ml">659</text>
<path d="M184.46 280V326.8" class="wl"/>
<path d="M184.46 280V326.8" class="wk"/>
<path d="M182.66 279.85H186.26L184.46 281.5Z" class="cp"/>
<path d="M184.46 372.8V383.7" class="wl"/>
<path d="M184.46 372.8V383.7" class="wk"/>
<path d="M182.66 384.3H186.26L184.46 382.7Z" class="cp"/>
<rect x="182.11" y="326.8" width="4.7" height="46" fill="#2f4c88" stroke="#22365c" stroke-width="0.6"/>
<path d="M181.86 354H187.06" class="md"/>
<text x="184.46" y="407.9" class="ml">957</text>
<path d="M194.77 351.4V368.5" class="wl"/>
<path d="M194.77 351.4V368.5" class="wk"/>
<path d="M192.97 351.25H196.57L194.77 352.9Z" class="cp"/>
<path d="M194.77 386.4V397.6" class="wl"/>
<path d="M194.77 386.4V397.6" class="wk"/>
<path d="M192.97 398.2H196.57L194.77 396.6Z" class="cp"/>
<rect x="192.42" y="368.5" width="4.7" height="17.9" fill="#70ac3c" stroke="#55853f" stroke-width="0.6"/>
<path d="M192.17 379.8H197.37" class="md"/>
<circle cx="194.77" cy="318.3" r="1.3"/>
<text x="194.77" y="407.9" class="ml">445</text>
<path d="M205.09 358.4V365" class="wl"/>
<path d="M205.09 358.4V365" class="wk"/>
<path d="M203.29 358.25H206.89L205.09 359.9Z" class="cp"/>
<path d="M205.09 382.5V399.2" class="wl"/>
<path d="M205.09 382.5V399.2" class="wk"/>
<path d="M203.29 399.8H206.89L205.09 398.2Z" class="cp"/>
<rect x="202.74" y="365" width="4.7" height="17.5" fill="#572462" stroke="#3a1a44" stroke-width="0.6"/>
<path d="M202.49 373.4H207.69" class="md"/>
<circle cx="205.09" cy="297.1" r="1.3"/>
<circle cx="205.09" cy="309.2" r="1.3"/>
<text x="205.09" y="407.9" class="ml">562</text>
<path d="M215.41 276V324.9" class="wl"/>
<path d="M215.41 276V324.9" class="wk"/>
<path d="M213.61 275.85H217.21L215.41 277.5Z" class="cp"/>
<path d="M215.41 376.7V400.5" class="wl"/>
<path d="M215.41 376.7V400.5" class="wk"/>
<path d="M213.61 401.1H217.21L215.41 399.5Z" class="cp"/>
<rect x="213.06" y="324.9" width="4.7" height="51.8" fill="#aa0230" stroke="#7a1028" stroke-width="0.6"/>
<path d="M212.81 353H218.01" class="md"/>
<text x="215.41" y="407.9" class="ml">972</text>
<path d="M225.72 309.3V330.4" class="wl"/>
<path d="M225.72 309.3V330.4" class="wk"/>
<path d="M223.92 309.15H227.52L225.72 310.8Z" class="cp"/>
<path d="M225.72 373.4V379.8" class="wl"/>
<path d="M225.72 373.4V379.8" class="wk"/>
<path d="M223.92 380.4H227.52L225.72 378.8Z" class="cp"/>
<rect x="223.37" y="330.4" width="4.7" height="43" fill="#2f4c88" stroke="#22365c" stroke-width="0.6"/>
<path d="M223.12 345.6H228.32" class="md"/>
<text x="225.72" y="407.9" class="ml">1111</text>
<path d="M236.04 329V355.3" class="wl"/>
<path d="M236.04 329V355.3" class="wk"/>
<path d="M234.24 328.85H237.84L236.04 330.5Z" class="cp"/>
<path d="M236.04 379.8V389.5" class="wl"/>
<path d="M236.04 379.8V389.5" class="wk"/>
<path d="M234.24 390.1H237.84L236.04 388.5Z" class="cp"/>
<rect x="233.69" y="355.3" width="4.7" height="24.5" fill="#70ac3c" stroke="#55853f" stroke-width="0.6"/>
<path d="M233.44 373.8H238.64" class="md"/>
<circle cx="236.04" cy="303.4" r="1.3"/>
<circle cx="236.04" cy="309.1" r="1.3"/>
<text x="236.04" y="407.9" class="ml">559</text>
<path d="M246.35 301V333.2" class="wl"/>
<path d="M246.35 301V333.2" class="wk"/>
<path d="M244.55 300.85H248.15L246.35 302.5Z" class="cp"/>
<path d="M246.35 370.1V383.7" class="wl"/>
<path d="M246.35 370.1V383.7" class="wk"/>
<path d="M244.55 384.3H248.15L246.35 382.7Z" class="cp"/>
<rect x="244" y="333.2" width="4.7" height="36.9" fill="#572462" stroke="#3a1a44" stroke-width="0.6"/>
<path d="M243.75 361.1H248.95" class="md"/>
<text x="246.35" y="407.9" class="ml">805</text>
<text x="65.82" y="418" class="dl">Day 28</text>
<text x="65.82" y="261.2" class="pv">p <0.01</text>
<text x="107.09" y="418" class="dl">Day 60</text>
<text x="107.09" y="261.2" class="pv">p <0.01</text>
<text x="148.35" y="418" class="dl">Day 100</text>
<text x="148.35" y="261.2" class="pv">p <0.01</text>
<text x="189.62" y="418" class="dl">Day 180</text>
<text x="189.62" y="261.2" class="pv">p = 0.02</text>
<text x="230.88" y="418" class="dl">Day 365</text>
<text x="230.88" y="261.2" class="pv">p = 0.26</text>
<text x="148.35" y="429.1" class="tm" textLength="11.4" lengthAdjust="spacingAndGlyphs">Time</text>
<text x="8.5" y="238.6" class="pl">C</text>
<path d="M296.5 244.4V410.5H512.7" class="ax"/>
<path d="M293.2 401.4H296.5" class="tk"/>
<text x="289.9" y="403.3" class="tl">0</text>
<path d="M293.2 363.4H296.5" class="tk"/>
<text x="289.9" y="365.3" class="tl">500</text>
<path d="M293.2 325.4H296.5" class="tk"/>
<text x="289.9" y="327.3" class="tl">1000</text>
<path d="M293.2 287.4H296.5" class="tk"/>
<text x="289.9" y="289.3" class="tl">1500</text>
<path d="M293.2 249.4H296.5" class="tk"/>
<text x="289.9" y="251.3" class="tl">2000</text>
<text transform="translate(272.8 327.3) rotate(-90)" class="yt" textLength="42.6" lengthAdjust="spacingAndGlyphs">Total CD8+ T cells</text>
<path d="M309.5 381.2V388.7" class="wl"/>
<path d="M309.5 381.2V388.7" class="wk"/>
<path d="M307.7 381.05H311.3L309.5 382.7Z" class="cp"/>
<path d="M309.5 396.9V401.4" class="wl"/>
<path d="M309.5 396.9V401.4" class="wk"/>
<path d="M307.7 402H311.3L309.5 400.4Z" class="cp"/>
<rect x="307.15" y="388.7" width="4.7" height="8.2" fill="#aa0230" stroke="#7a1028" stroke-width="0.6"/>
<path d="M306.9 393.8H312.1" class="md"/>
<circle cx="309.5" cy="342" r="1.3"/>
<circle cx="309.5" cy="370.8" r="1.3"/>
<circle cx="309.5" cy="372.4" r="1.3"/>
<circle cx="309.5" cy="374" r="1.3"/>
<circle cx="309.5" cy="375.6" r="1.3"/>
<circle cx="309.5" cy="377.2" r="1.3"/>
<circle cx="309.5" cy="378.5" r="1.3"/>
<text x="309.5" y="407.7" class="ml">67</text>
<path d="M319.82 379V389.4" class="wl"/>
<path d="M319.82 379V389.4" class="wk"/>
<path d="M318.02 378.85H321.62L319.82 380.5Z" class="cp"/>
<path d="M319.82 398.3V400.3" class="wl"/>
<path d="M319.82 398.3V400.3" class="wk"/>
<path d="M318.02 400.9H321.62L319.82 399.3Z" class="cp"/>
<rect x="317.47" y="389.4" width="4.7" height="8.9" fill="#2f4c88" stroke="#22365c" stroke-width="0.6"/>
<path d="M317.22 396.9H322.42" class="md"/>
<circle cx="319.82" cy="342.4" r="1.3"/>
<circle cx="319.82" cy="374" r="1.3"/>
<circle cx="319.82" cy="375.6" r="1.3"/>
<circle cx="319.82" cy="377" r="1.3"/>
<text x="319.82" y="407.7" class="ml">59</text>
<path d="M330.13 396V397.5" class="wl"/>
<path d="M330.13 396V397.5" class="wk"/>
<path d="M328.33 395.85H331.93L330.13 397.5Z" class="cp"/>
<path d="M330.13 400.6V401.6" class="wl"/>
<path d="M330.13 400.6V401.6" class="wk"/>
<path d="M328.33 402.2H331.93L330.13 400.6Z" class="cp"/>
<rect x="327.78" y="397.5" width="4.7" height="3.1" fill="#70ac3c" stroke="#55853f" stroke-width="0.6"/>
<path d="M327.53 399.5H332.73" class="md"/>
<circle cx="330.13" cy="384.7" r="1.3"/>
<circle cx="330.13" cy="387.7" r="1.3"/>
<circle cx="330.13" cy="391.3" r="1.3"/>
<circle cx="330.13" cy="394.4" r="1.3"/>
<text x="330.13" y="407.7" class="ml">17</text>
<path d="M340.45 395.5V396.5" class="wl"/>
<path d="M340.45 395.5V396.5" class="wk"/>
<path d="M338.65 395.35H342.25L340.45 397Z" class="cp"/>
<path d="M340.45 400.1V401.2" class="wl"/>
<path d="M340.45 400.1V401.2" class="wk"/>
<path d="M338.65 401.8H342.25L340.45 400.2Z" class="cp"/>
<rect x="338.1" y="396.5" width="4.7" height="3.6" fill="#572462" stroke="#3a1a44" stroke-width="0.6"/>
<path d="M337.85 398.5H343.05" class="md"/>
<circle cx="340.45" cy="377.3" r="1.3"/>
<circle cx="340.45" cy="389.3" r="1.3"/>
<text x="340.45" y="407.7" class="ml">31</text>
<path d="M350.76 343.8V374.6" class="wl"/>
<path d="M350.76 343.8V374.6" class="wk"/>
<path d="M348.96 343.65H352.56L350.76 345.3Z" class="cp"/>
<path d="M350.76 395.4V400.5" class="wl"/>
<path d="M350.76 395.4V400.5" class="wk"/>
<path d="M348.96 401.1H352.56L350.76 399.5Z" class="cp"/>
<rect x="348.41" y="374.6" width="4.7" height="20.8" fill="#aa0230" stroke="#7a1028" stroke-width="0.6"/>
<path d="M348.16 389.7H353.36" class="md"/>
<circle cx="350.76" cy="299.6" r="1.3"/>
<circle cx="350.76" cy="317.1" r="1.3"/>
<circle cx="350.76" cy="329.9" r="1.3"/>
<circle cx="350.76" cy="339.4" r="1.3"/>
<text x="350.76" y="407.7" class="ml">146</text>
<path d="M361.08 335.8V365.4" class="wl"/>
<path d="M361.08 335.8V365.4" class="wk"/>
<path d="M359.28 335.65H362.88L361.08 337.3Z" class="cp"/>
<path d="M361.08 395.4V399.7" class="wl"/>
<path d="M361.08 395.4V399.7" class="wk"/>
<path d="M359.28 400.3H362.88L361.08 398.7Z" class="cp"/>
<rect x="358.73" y="365.4" width="4.7" height="30" fill="#2f4c88" stroke="#22365c" stroke-width="0.6"/>
<path d="M358.48 386.5H363.68" class="md"/>
<circle cx="361.08" cy="278.3" r="1.3"/>
<text x="361.08" y="407.7" class="ml">191</text>
<path d="M371.4 394V396" class="wl"/>
<path d="M371.4 394V396" class="wk"/>
<path d="M369.6 393.85H373.2L371.4 395.5Z" class="cp"/>
<path d="M371.4 399.7V401.6" class="wl"/>
<path d="M371.4 399.7V401.6" class="wk"/>
<path d="M369.6 402.2H373.2L371.4 400.6Z" class="cp"/>
<rect x="369.05" y="396" width="4.7" height="3.7" fill="#70ac3c" stroke="#55853f" stroke-width="0.6"/>
<path d="M368.8 398.1H374" class="md"/>
<circle cx="371.4" cy="318.4" r="1.3"/>
<circle cx="371.4" cy="372.6" r="1.3"/>
<circle cx="371.4" cy="388.5" r="1.3"/>
<circle cx="371.4" cy="390.9" r="1.3"/>
<text x="371.4" y="407.7" class="ml">35</text>
<path d="M381.71 385.3V389.3" class="wl"/>
<path d="M381.71 385.3V389.3" class="wk"/>
<path d="M379.91 385.15H383.51L381.71 386.8Z" class="cp"/>
<path d="M381.71 398.6V400.5" class="wl"/>
<path d="M381.71 398.6V400.5" class="wk"/>
<path d="M379.91 401.1H383.51L381.71 399.5Z" class="cp"/>
<rect x="379.36" y="389.3" width="4.7" height="9.3" fill="#572462" stroke="#3a1a44" stroke-width="0.6"/>
<path d="M379.11 394.5H384.31" class="md"/>
<circle cx="381.71" cy="372.9" r="1.3"/>
<text x="381.71" y="407.7" class="ml">84</text>
<path d="M392.03 338.4V370.9" class="wl"/>
<path d="M392.03 338.4V370.9" class="wk"/>
<path d="M390.23 338.25H393.83L392.03 339.9Z" class="cp"/>
<path d="M392.03 394.6V400.5" class="wl"/>
<path d="M392.03 394.6V400.5" class="wk"/>
<path d="M390.23 401.1H393.83L392.03 399.5Z" class="cp"/>
<rect x="389.68" y="370.9" width="4.7" height="23.7" fill="#aa0230" stroke="#7a1028" stroke-width="0.6"/>
<path d="M389.43 388H394.63" class="md"/>
<circle cx="392.03" cy="272.4" r="1.3"/>
<text x="392.03" y="407.7" class="ml">167</text>
<path d="M402.34 323.9V350.5" class="wl"/>
<path d="M402.34 323.9V350.5" class="wk"/>
<path d="M400.54 323.75H404.14L402.34 325.4Z" class="cp"/>
<path d="M402.34 395.1V399.9" class="wl"/>
<path d="M402.34 395.1V399.9" class="wk"/>
<path d="M400.54 400.5H404.14L402.34 398.9Z" class="cp"/>
<rect x="399.99" y="350.5" width="4.7" height="44.6" fill="#2f4c88" stroke="#22365c" stroke-width="0.6"/>
<path d="M399.74 379.3H404.94" class="md"/>
<circle cx="402.34" cy="281" r="1.3"/>
<text x="402.34" y="407.7" class="ml">282</text>
<path d="M412.66 377.9V390.3" class="wl"/>
<path d="M412.66 377.9V390.3" class="wk"/>
<path d="M410.86 377.75H414.46L412.66 379.4Z" class="cp"/>
<path d="M412.66 399.3V401.6" class="wl"/>
<path d="M412.66 399.3V401.6" class="wk"/>
<path d="M410.86 402.2H414.46L412.66 400.6Z" class="cp"/>
<rect x="410.31" y="390.3" width="4.7" height="9" fill="#70ac3c" stroke="#55853f" stroke-width="0.6"/>
<path d="M410.06 395.9H415.26" class="md"/>
<circle cx="412.66" cy="304.2" r="1.3"/>
<circle cx="412.66" cy="338" r="1.3"/>
<circle cx="412.66" cy="346.8" r="1.3"/>
<circle cx="412.66" cy="367.3" r="1.3"/>
<circle cx="412.66" cy="372.8" r="1.3"/>
<text x="412.66" y="407.7" class="ml">61</text>
<path d="M422.98 369.7V385.1" class="wl"/>
<path d="M422.98 369.7V385.1" class="wk"/>
<path d="M421.18 369.55H424.78L422.98 371.2Z" class="cp"/>
<path d="M422.98 399.9V401" class="wl"/>
<path d="M422.98 399.9V401" class="wk"/>
<path d="M421.18 401.6H424.78L422.98 400Z" class="cp"/>
<rect x="420.63" y="385.1" width="4.7" height="14.8" fill="#572462" stroke="#3a1a44" stroke-width="0.6"/>
<path d="M420.38 394.7H425.58" class="md"/>
<text x="422.98" y="407.7" class="ml">90</text>
<path d="M433.29 337.8V359.4" class="wl"/>
<path d="M433.29 337.8V359.4" class="wk"/>
<path d="M431.49 337.65H435.09L433.29 339.3Z" class="cp"/>
<path d="M433.29 389.8V399.9" class="wl"/>
<path d="M433.29 389.8V399.9" class="wk"/>
<path d="M431.49 400.5H435.09L433.29 398.9Z" class="cp"/>
<rect x="430.94" y="359.4" width="4.7" height="30.4" fill="#aa0230" stroke="#7a1028" stroke-width="0.6"/>
<path d="M430.69 383.4H435.89" class="md"/>
<circle cx="433.29" cy="307.3" r="1.3"/>
<text x="433.29" y="407.7" class="ml">226</text>
<path d="M443.61 275.9V334.1" class="wl"/>
<path d="M443.61 275.9V334.1" class="wk"/>
<path d="M441.81 275.75H445.41L443.61 277.4Z" class="cp"/>
<path d="M443.61 375.2V386.2" class="wl"/>
<path d="M443.61 375.2V386.2" class="wk"/>
<path d="M441.81 386.8H445.41L443.61 385.2Z" class="cp"/>
<rect x="441.26" y="334.1" width="4.7" height="41.1" fill="#2f4c88" stroke="#22365c" stroke-width="0.6"/>
<path d="M441.01 344.2H446.21" class="md"/>
<circle cx="443.61" cy="257.3" r="1.3"/>
<text x="443.61" y="407.7" class="ml">749</text>
<path d="M453.92 340V372.1" class="wl"/>
<path d="M453.92 340V372.1" class="wk"/>
<path d="M452.12 339.85H455.72L453.92 341.5Z" class="cp"/>
<path d="M453.92 397.1V399.9" class="wl"/>
<path d="M453.92 397.1V399.9" class="wk"/>
<path d="M452.12 400.5H455.72L453.92 398.9Z" class="cp"/>
<rect x="451.57" y="372.1" width="4.7" height="25" fill="#70ac3c" stroke="#55853f" stroke-width="0.6"/>
<path d="M451.32 391.1H456.52" class="md"/>
<text x="453.92" y="407.7" class="ml">122</text>
<path d="M464.24 369.7V372.1" class="wl"/>
<path d="M464.24 369.7V372.1" class="wk"/>
<path d="M462.44 369.55H466.04L464.24 371.2Z" class="cp"/>
<path d="M464.24 395.9V399.5" class="wl"/>
<path d="M464.24 395.9V399.5" class="wk"/>
<path d="M462.44 400.1H466.04L464.24 398.5Z" class="cp"/>
<rect x="461.89" y="372.1" width="4.7" height="23.8" fill="#572462" stroke="#3a1a44" stroke-width="0.6"/>
<path d="M461.64 379.4H466.84" class="md"/>
<circle cx="464.24" cy="282.9" r="1.3"/>
<circle cx="464.24" cy="311.2" r="1.3"/>
<text x="464.24" y="407.7" class="ml">282</text>
<path d="M474.56 320.6V336.5" class="wl"/>
<path d="M474.56 320.6V336.5" class="wk"/>
<path d="M472.76 320.45H476.36L474.56 322.1Z" class="cp"/>
<path d="M474.56 389.5V400" class="wl"/>
<path d="M474.56 389.5V400" class="wk"/>
<path d="M472.76 400.6H476.36L474.56 399Z" class="cp"/>
<rect x="472.21" y="336.5" width="4.7" height="53" fill="#aa0230" stroke="#7a1028" stroke-width="0.6"/>
<path d="M471.96 375.3H477.16" class="md"/>
<text x="474.56" y="407.7" class="ml">343</text>
<path d="M484.87 320.3V332.6" class="wl"/>
<path d="M484.87 320.3V332.6" class="wk"/>
<path d="M483.07 320.15H486.67L484.87 321.8Z" class="cp"/>
<path d="M484.87 385V397.2" class="wl"/>
<path d="M484.87 385V397.2" class="wk"/>
<path d="M483.07 397.8H486.67L484.87 396.2Z" class="cp"/>
<rect x="482.52" y="332.6" width="4.7" height="52.4" fill="#2f4c88" stroke="#22365c" stroke-width="0.6"/>
<path d="M482.27 366.6H487.47" class="md"/>
<text x="484.87" y="407.7" class="ml">450</text>
<path d="M495.19 328.8V367.2" class="wl"/>
<path d="M495.19 328.8V367.2" class="wk"/>
<path d="M493.39 328.65H496.99L495.19 330.3Z" class="cp"/>
<path d="M495.19 393.4V398.6" class="wl"/>
<path d="M495.19 393.4V398.6" class="wk"/>
<path d="M493.39 399.2H496.99L495.19 397.6Z" class="cp"/>
<rect x="492.84" y="367.2" width="4.7" height="26.2" fill="#70ac3c" stroke="#55853f" stroke-width="0.6"/>
<path d="M492.59 387.3H497.79" class="md"/>
<circle cx="495.19" cy="297.9" r="1.3"/>
<circle cx="495.19" cy="304.4" r="1.3"/>
<text x="495.19" y="407.7" class="ml">183</text>
<path d="M505.5 304.4V342.9" class="wl"/>
<path d="M505.5 304.4V342.9" class="wk"/>
<path d="M503.7 304.25H507.3L505.5 305.9Z" class="cp"/>
<path d="M505.5 389.9V394.1" class="wl"/>
<path d="M505.5 389.9V394.1" class="wk"/>
<path d="M503.7 394.7H507.3L505.5 393.1Z" class="cp"/>
<rect x="503.15" y="342.9" width="4.7" height="47" fill="#572462" stroke="#3a1a44" stroke-width="0.6"/>
<path d="M502.9 370.8H508.1" class="md"/>
<text x="505.5" y="407.7" class="ml">400</text>
<text x="324.97" y="418" class="dl">Day 28</text>
<text x="324.97" y="264.8" class="pv">p <0.01</text>
<text x="366.24" y="418" class="dl">Day 60</text>
<text x="366.24" y="264.8" class="pv">p <0.01</text>
<text x="407.5" y="418" class="dl">Day 100</text>
<text x="407.5" y="264.8" class="pv">p <0.01</text>
<text x="448.77" y="418" class="dl">Day 180</text>
<text x="448.77" y="264.8" class="pv">p <0.01</text>
<text x="490.03" y="418" class="dl">Day 365</text>
<text x="490.03" y="264.8" class="pv">p = 0.29</text>
<text x="407.5" y="429.1" class="tm" textLength="11.4" lengthAdjust="spacingAndGlyphs">Time</text>
<text x="267.4" y="238.1" class="pl">D</text>
<rect x="42.7" y="54.3" width="5.2" height="4.6" fill="#aa0230" stroke="#7a1028" stroke-width="0.5"/>
<text x="49.9" y="58.6" class="lg">MSD+ATG</text>
<rect x="42.7" y="62.15" width="5.2" height="4.6" fill="#2f4c88" stroke="#22365c" stroke-width="0.5"/>
<text x="49.9" y="66.45" class="lg">MSD-ATG</text>
<rect x="42.7" y="70" width="5.2" height="4.6" fill="#70ac3c" stroke="#55853f" stroke-width="0.5"/>
<text x="49.9" y="74.3" class="lg">UCB+ATG</text>
<rect x="42.7" y="77.85" width="5.2" height="4.6" fill="#572462" stroke="#3a1a44" stroke-width="0.5"/>
<text x="49.9" y="82.15" class="lg">UCB-ATG</text>
<rect x="0" y="0" width="520" height="1.1" fill="#000"/><rect x="0" y="0" width="1.3" height="438" fill="#000"/><rect x="518.5" y="0" width="1.5" height="438" fill="#000"/><rect x="0" y="436.4" width="520" height="1.6" fill="#000"/>
</svg>
</body></html>
